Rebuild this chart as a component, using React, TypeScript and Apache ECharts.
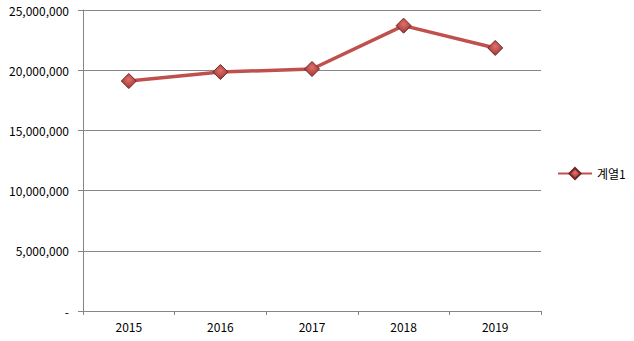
import React, { useEffect, useRef } from "react";
import * as echarts from "echarts";

const categories = ["2015", "2016", "2017", "2018", "2019"];
const seriesName = "계열1";
const values = [19100000, 19850000, 20100000, 23700000, 21850000];
const yTicks = { min: 0, max: 25000000, interval: 5000000 };

export default function App() {
  const ref = useRef<HTMLDivElement>(null);
  useEffect(() => {
    if (!ref.current) return;
    const chart = echarts.init(ref.current, undefined, { renderer: "svg" });
    const font = "'Noto Sans CJK KR', 'Noto Sans', sans-serif";
    chart.setOption({
      animation: false,
      backgroundColor: "#ffffff",
      textStyle: { fontFamily: font },
      grid: { left: 83, right: 93, top: 10, bottom: 30, containLabel: false },
      legend: {
        orient: "vertical",
        left: 552,
        top: 162,
        itemWidth: 34,
        itemHeight: 14,
        itemGap: 4,
        textStyle: { fontSize: 12, color: "#000", fontFamily: font },
        data: [seriesName],
      },
      xAxis: {
        type: "category",
        data: categories,
        boundaryGap: true,
        axisLine: { lineStyle: { color: "#868686", width: 1 } },
        axisTick: { show: true, alignWithLabel: false, length: 4, lineStyle: { color: "#868686" } },
        axisLabel: { color: "#000", fontSize: 12, margin: 9, fontFamily: font },
        splitLine: { show: false },
      },
      yAxis: {
        type: "value",
        min: yTicks.min,
        max: yTicks.max,
        interval: yTicks.interval,
        axisLine: { show: true, lineStyle: { color: "#868686", width: 1 } },
        axisTick: { show: true, length: 5, lineStyle: { color: "#868686" } },
        axisLabel: {
          color: "#000",
          fontSize: 12,
          margin: 14,
          fontFamily: font,
          formatter: (v: number) => (v === 0 ? "-" : v.toLocaleString("en-US")),
        },
        splitLine: { show: true, lineStyle: { color: "#868686", width: 1 } },
      },
      series: [
        {
          name: seriesName,
          type: "line",
          data: values,
          symbol: "diamond",
          symbolSize: 15,
          lineStyle: { color: "#c0504d", width: 3.5 },
          itemStyle: {
            color: {
              type: "radial",
              x: 0.5,
              y: 0.4,
              r: 0.6,
              colorStops: [
                { offset: 0, color: "#e0706c" },
                { offset: 1, color: "#9c3532" },
              ],
            },
            borderColor: "#6e2624",
            borderWidth: 1,
          },
        },
      ],
    });
    return () => chart.dispose();
  }, []);
  return <div ref={ref} style={{ width: 634, height: 341, position: "absolute", left: 0, top: 0 }} />;
}
